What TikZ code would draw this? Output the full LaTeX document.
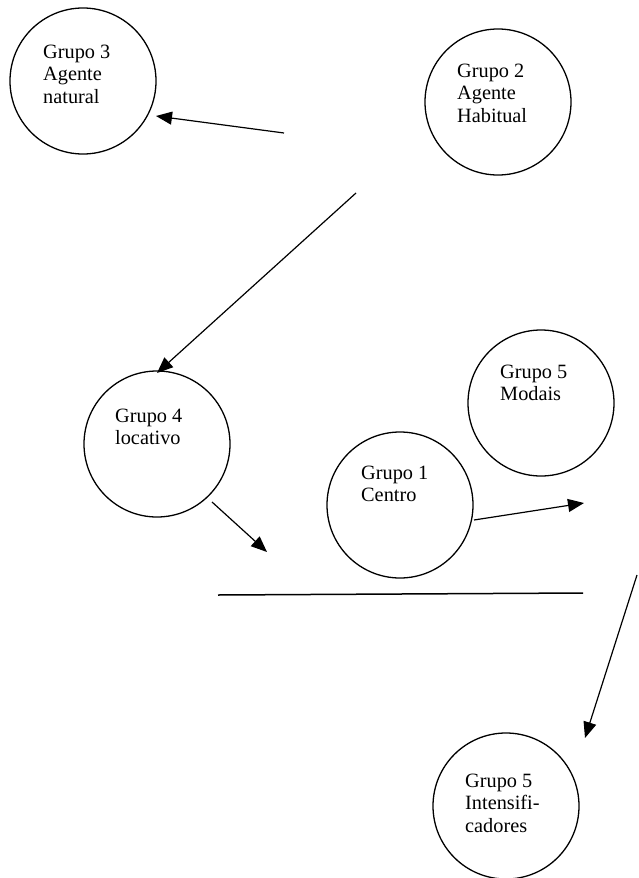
\documentclass[tikz,border=0pt]{standalone}
\usepackage{fontspec}
\setmainfont{Liberation Serif}
\usetikzlibrary{arrows.meta}
\begin{document}
\begin{tikzpicture}[x=1pt,y=-1pt,
  grp/.style={circle,draw,line width=1.3pt,minimum size=146pt,inner sep=0pt},
  lbl/.style={anchor=base west,align=left,inner sep=0pt,font=\fontsize{20.3}{22.5}\selectfont},
  conn/.style={line width=1.2pt,-{Triangle[length=16pt,width=13pt]}}]
\useasboundingbox (0,0) rectangle (638,878);
% circles
\node[grp] (g3) at (83,81) {};
\node[grp] (g2) at (498,102) {};
\node[grp] (g4) at (157,444) {};
\node[grp] (g5m) at (541,403) {};
\node[grp] (g1) at (400,505) {};
\node[grp] (g5i) at (506,806) {};
% labels (anchored at the baseline of the last line)
\node[lbl] (t3) at (43,103) {Grupo 3\\Agente\\natural};
\node[lbl] (t2) at (457,122) {Grupo 2\\Agente\\Habitual};
\node[lbl] (t4) at (115,444.5) {Grupo 4\\locativo};
\node[lbl] (t5m) at (500,400.5) {Grupo 5\\Modais};
\node[lbl] (t1) at (361,501.5) {Grupo 1\\Centro};
\node[lbl] (t5i) at (465,832) {Grupo 5\\Intensifi-\\cadores};
% free ends
\coordinate (a1s) at (284,133);
\coordinate (a1e) at (156,116);
\coordinate (a2s) at (356,193);
\coordinate (a2e) at (157,373);
\coordinate (a3s) at (212,502);
\coordinate (a3e) at (267,552);
\coordinate (a4s) at (474,520);
\coordinate (a4e) at (584,503);
\coordinate (a5s) at (637,575);
\coordinate (a5e) at (585,738);
\coordinate (hl) at (218,595);
\coordinate (hr) at (583,593);
% connectors
\draw[conn] (a1s) -- (a1e);
\draw[conn] (a2s) -- (a2e);
\draw[conn] (a3s) -- (a3e);
\draw[conn] (a4s) -- (a4e);
\draw[conn] (a5s) -- (a5e);
\draw[line width=1.5pt] (hl) -- (hr);
\end{tikzpicture}
\end{document}
